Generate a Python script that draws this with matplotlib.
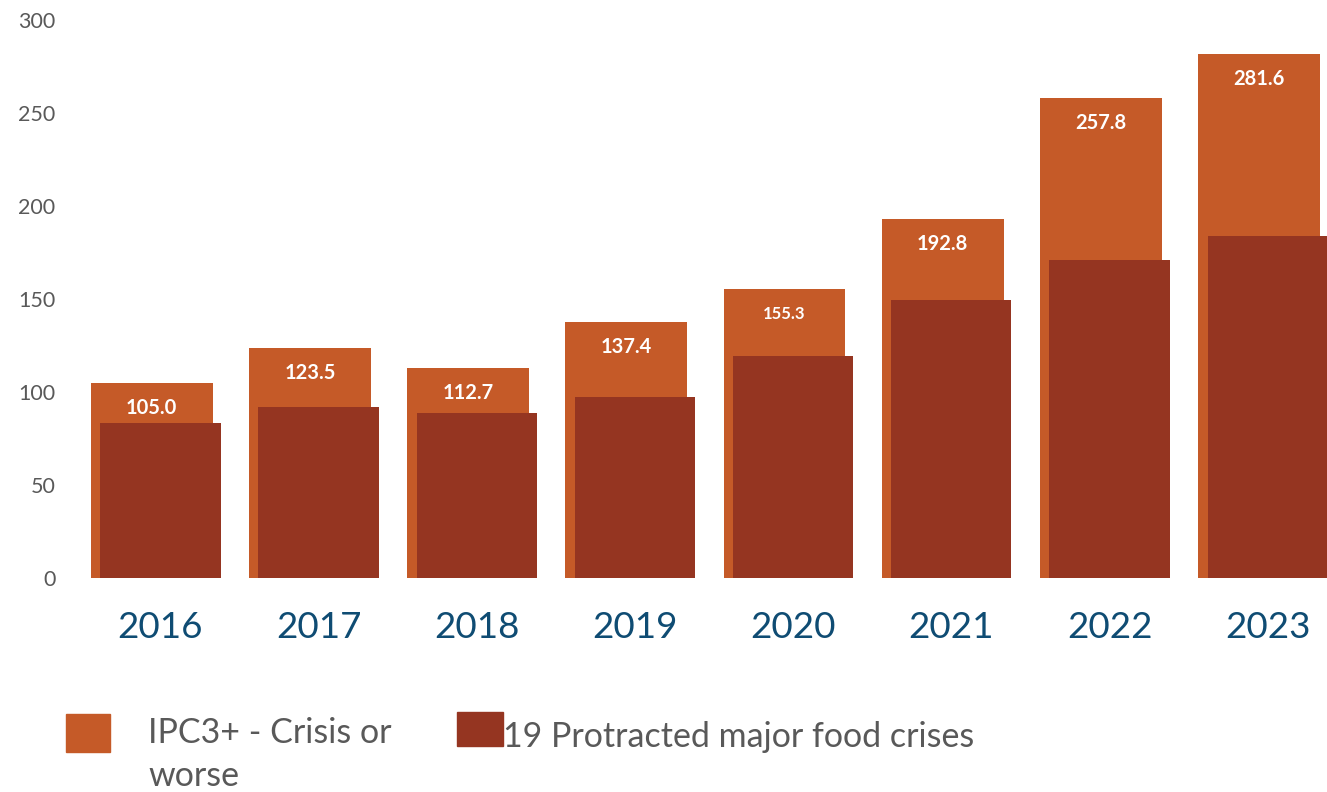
import numpy as np
import matplotlib
matplotlib.use("Agg")
import matplotlib.pyplot as plt
from matplotlib.patches import Rectangle

plt.rcParams['font.family'] = ['Lato', 'DejaVu Sans']

years = ['2016', '2017', '2018', '2019', '2020', '2021', '2022', '2023']
ipc3_plus = [105.0, 123.5, 112.7, 137.4, 155.3, 192.8, 257.8, 281.6]
protracted = [83.5, 92.0, 88.5, 97.5, 119.5, 149.5, 171.0, 184.0]
label_sizes = [14.5, 14.5, 14.5, 14.5, 12, 14.5, 14.5, 14.5]

orange = '#C55A28'
dark = '#953521'
grey = '#595959'
blue = '#0F4C73'

fig = plt.figure(figsize=(13.27, 7.92), dpi=100)
ax = fig.add_axes([75 / 1327, 1 - 578 / 792, 1 - 75 / 1327, 558 / 792])

x = np.arange(len(years))
ax.bar(x - 0.025, ipc3_plus, width=0.77, color=orange, zorder=2)
ax.bar(x + 0.03, protracted, width=0.76, color=dark, zorder=3)

for xi, v, fs in zip(x, ipc3_plus, label_sizes):
    ax.annotate(f'{v:.1f}', (xi - 0.025, v), xytext=(0, -18), textcoords='offset points',
                ha='center', va='center', color='white', fontsize=fs,
                fontweight='bold', zorder=4)

ax.set_xlim(-0.51, 7.405)
ax.set_ylim(0, 300)
ax.set_yticks(range(0, 301, 50))
ax.tick_params(axis='y', length=0, labelsize=15.5, labelcolor=grey, pad=14)
ax.set_xticks(x + 0.03)
ax.set_xticklabels(years)
ax.tick_params(axis='x', length=0, labelsize=26.5, labelcolor=blue, pad=24)
for s in ax.spines.values():
    s.set_visible(False)

# legend drawn by hand to get the wrapped two-line label
W, H = 1327, 792
fig.patches.append(Rectangle((66 / W, 1 - 752 / H), 44 / W, 38 / H,
                             transform=fig.transFigure, color=orange))
fig.text(148 / W, 1 - 733 / H, 'IPC3+ - Crisis or', fontsize=24.5, color=grey, va='center')
fig.text(148 / W, 1 - 776 / H, 'worse', fontsize=24.5, color=grey, va='center')
fig.patches.append(Rectangle((457 / W, 1 - 746 / H), 46 / W, 34 / H,
                             transform=fig.transFigure, color=dark))
fig.text(503 / W, 1 - 737 / H, '19 Protracted major food crises', fontsize=24.5,
         color=grey, va='center')

fig.savefig('out.png', dpi=100)
